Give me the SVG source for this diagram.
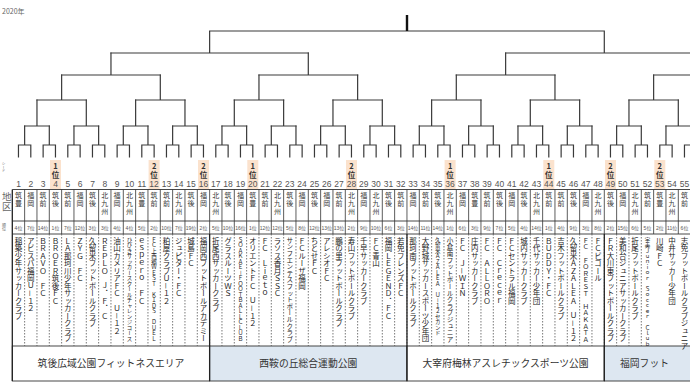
<svg xmlns="http://www.w3.org/2000/svg" width="690" height="388" viewBox="0 0 690 388">
<style>
.br{fill:none;stroke:#3a3a3a;stroke-width:1.2;vector-effect:non-scaling-stroke;stroke-linecap:square}
.tick{fill:none;stroke:#111;stroke-width:2.4}
.gl{fill:none;stroke:#333;stroke-width:0.8;vector-effect:non-scaling-stroke}
.dl{fill:none;stroke:#555;stroke-width:0.8;stroke-dasharray:1.5 1.5;vector-effect:non-scaling-stroke}
.hl{fill:none;stroke:#333;stroke-width:0.9}
.sep{fill:none;stroke:#222;stroke-width:1.3}
.seed{fill:#fbe2cd}
.num{font-family:"Liberation Sans",sans-serif;font-size:8.5px;fill:#555;text-anchor:middle}
.sd{font-family:"Noto Sans CJK JP",sans-serif;font-size:7.5px;font-weight:bold;fill:#333;text-anchor:middle}
.v{writing-mode:vertical-rl;font-family:"Noto Sans CJK JP",sans-serif;fill:#222}
.rg{font-size:7px;letter-spacing:1px;fill:#3a3a3a}
.nm{font-size:7.5px}
.nmc{font-size:6.6px}
.nmt{font-size:5.5px}
.rk{font-family:"Liberation Sans","Noto Sans CJK JP",sans-serif;font-size:5px;fill:#555;text-anchor:middle}
.vn{font-family:"Noto Sans CJK JP",sans-serif;font-size:9.8px;fill:#333;text-anchor:middle}
.blue{fill:#dde7f1;stroke:#333;stroke-width:0.9}
.white{fill:#fff;stroke:#333;stroke-width:0.9}
.sm{font-family:"Noto Sans CJK JP",sans-serif;fill:#666}
</style>

<text x="2" y="14" class="sm" font-size="7">2020年</text>

<g id="connectors">
<g transform="translate(12.3 0) scale(12.3333 1)">
<path class="br" d="M.5 157V145H1.5V157M1 145V126M2.5 157V145H3.5V157M3 145V126M4.5 157V145H5.5V157M5 145V126M6.5 157V145H7.5V157M7 145V126M8.5 157V145H9.5V157M9 145V126M10.5 157V145H11.5V157M11 145V126M12.5 157V145H13.5V157M13 145V126M14.5 157V145H15.5V157M15 145V126M16.5 157V145H17.5V157M17 145V126M18.5 157V145H19.5V157M19 145V126M20.5 157V145H21.5V157M21 145V126M22.5 157V145H23.5V157M23 145V126M24.5 157V145H25.5V157M25 145V126M26.5 157V145H27.5V157M27 145V126M28.5 157V145H29.5V157M29 145V126M30.5 157V145H31.5V157M31 145V126M32.5 157V145H33.5V157M33 145V126M34.5 157V145H35.5V157M35 145V126M36.5 157V145H37.5V157M37 145V126M38.5 157V145H39.5V157M39 145V126M40.5 157V145H41.5V157M41 145V126M42.5 157V145H43.5V157M43 145V126M44.5 157V145H45.5V157M45 145V126M46.5 157V145H47.5V157M47 145V126M48.5 157V145H49.5V157M49 145V126M50.5 157V145H51.5V157M51 145V126M52.5 157V145H53.5V157M53 145V126M54.5 157V145H55.5V157M55 145V126"/>
<path class="br" d="M1 126H3M2 126V100M5 126H7M6 126V100M9 126H11M10 126V100M13 126H15M14 126V100M17 126H19M18 126V100M21 126H23M22 126V100M25 126H27M26 126V100M29 126H31M30 126V100M33 126H35M34 126V100M37 126H39M38 126V100M41 126H43M42 126V100M45 126H47M46 126V100M49 126H51M50 126V100M53 126H55M54 126V100"/>
<path class="br" d="M2 100H6M4 100V75M10 100H14M12 100V75M18 100H22M20 100V75M26 100H30M28 100V75M34 100H38M36 100V75M42 100H46M44 100V75M50 100H54M52 100V75"/>
<path class="br" d="M4 75H12M8 75V53M20 75H28M24 75V53M36 75H44M40 75V53M52 75H60M56 75V53"/>
<path class="br" d="M8 53H24M16 53V31M40 53H56M48 53V31M16 31H48"/>
</g>
<path class="tick" d="M407 31V15"/>
</g>

<g id="seeds">
<rect class="seed" x="50" y="160" width="11" height="29.5"/>
<rect class="seed" x="148.6" y="160" width="11" height="29.5"/>
<rect class="seed" x="198" y="160" width="11" height="29.5"/>
<rect class="seed" x="247.3" y="160" width="11" height="29.5"/>
<rect class="seed" x="346" y="160" width="11" height="29.5"/>
<rect class="seed" x="444.6" y="160" width="11" height="29.5"/>
<rect class="seed" x="543.3" y="160" width="11" height="29.5"/>
<rect class="seed" x="605" y="160" width="11" height="29.5"/>
<rect class="seed" x="654.3" y="160" width="11" height="29.5"/>
<text class="sd" x="55.5" y="168.5">1</text><text class="sd" x="55.5" y="178">位</text>
<text class="sd" x="154.1" y="168.5">2</text><text class="sd" x="154.1" y="178">位</text>
<text class="sd" x="203.5" y="168.5">2</text><text class="sd" x="203.5" y="178">位</text>
<text class="sd" x="252.8" y="168.5">1</text><text class="sd" x="252.8" y="178">位</text>
<text class="sd" x="351.5" y="168.5">2</text><text class="sd" x="351.5" y="178">位</text>
<text class="sd" x="450.1" y="168.5">1</text><text class="sd" x="450.1" y="178">位</text>
<text class="sd" x="548.8" y="168.5">1</text><text class="sd" x="548.8" y="178">位</text>
<text class="sd" x="610.5" y="168.5">2</text><text class="sd" x="610.5" y="178">位</text>
<text class="sd" x="659.8" y="168.5">2</text><text class="sd" x="659.8" y="178">位</text>
</g>

<text class="v sm" x="3.5" y="162" font-size="3.6">シード</text>

<g id="numbers">
<text class="num" x="18.5" y="186.5">1</text><text class="num" x="30.8" y="186.5">2</text><text class="num" x="43.1" y="186.5">3</text><text class="num" x="55.5" y="186.5">4</text><text class="num" x="67.8" y="186.5">5</text><text class="num" x="80.1" y="186.5">6</text><text class="num" x="92.5" y="186.5">7</text><text class="num" x="104.8" y="186.5">8</text><text class="num" x="117.1" y="186.5">9</text><text class="num" x="129.5" y="186.5">10</text><text class="num" x="141.8" y="186.5">11</text><text class="num" x="154.1" y="186.5">12</text><text class="num" x="166.5" y="186.5">13</text><text class="num" x="178.8" y="186.5">14</text><text class="num" x="191.1" y="186.5">15</text><text class="num" x="203.5" y="186.5">16</text><text class="num" x="215.8" y="186.5">17</text><text class="num" x="228.1" y="186.5">18</text><text class="num" x="240.5" y="186.5">19</text><text class="num" x="252.8" y="186.5">20</text><text class="num" x="265.1" y="186.5">21</text><text class="num" x="277.5" y="186.5">22</text><text class="num" x="289.8" y="186.5">23</text><text class="num" x="302.1" y="186.5">24</text><text class="num" x="314.5" y="186.5">25</text><text class="num" x="326.8" y="186.5">26</text><text class="num" x="339.1" y="186.5">27</text><text class="num" x="351.5" y="186.5">28</text><text class="num" x="363.8" y="186.5">29</text><text class="num" x="376.1" y="186.5">30</text><text class="num" x="388.5" y="186.5">31</text><text class="num" x="400.8" y="186.5">32</text><text class="num" x="413.1" y="186.5">33</text><text class="num" x="425.5" y="186.5">34</text><text class="num" x="437.8" y="186.5">35</text><text class="num" x="450.1" y="186.5">36</text><text class="num" x="462.5" y="186.5">37</text><text class="num" x="474.8" y="186.5">38</text><text class="num" x="487.1" y="186.5">39</text><text class="num" x="499.5" y="186.5">40</text><text class="num" x="511.8" y="186.5">41</text><text class="num" x="524.1" y="186.5">42</text><text class="num" x="536.5" y="186.5">43</text><text class="num" x="548.8" y="186.5">44</text><text class="num" x="561.1" y="186.5">45</text><text class="num" x="573.5" y="186.5">46</text><text class="num" x="585.8" y="186.5">47</text><text class="num" x="598.1" y="186.5">48</text><text class="num" x="610.5" y="186.5">49</text><text class="num" x="622.8" y="186.5">50</text><text class="num" x="635.1" y="186.5">51</text><text class="num" x="647.5" y="186.5">52</text><text class="num" x="659.8" y="186.5">53</text><text class="num" x="672.1" y="186.5">54</text><text class="num" x="684.5" y="186.5">55</text>
</g>

<g id="venues">
<rect class="white" x="12.3" y="346" width="197.33" height="35"/>
<rect class="blue" x="209.63" y="346" width="197.34" height="35"/>
<rect class="white" x="406.97" y="346" width="197.33" height="35"/>
<rect class="blue" x="604.3" y="346" width="100" height="35"/>
<text class="vn" x="111" y="367">筑後広域公園フィットネスエリア</text>
<text class="vn" x="308.3" y="367">西鞍の丘総合運動公園</text>
<text class="vn" x="505.6" y="367">大宰府梅林アスレチックスポーツ公園</text>
<text class="vn" x="644.5" y="367" text-anchor="start">福岡フット</text>
</g>

<g id="grid">
<path class="hl" d="M12.3 189.5H690M12.3 221H690M12.3 234H690"/>
<g transform="translate(12.3 0) scale(12.3333 1)">
<path class="gl" d="M1 189.5v44.5m1-44.5v44.5m1-44.5v44.5m1-44.5v44.5m1-44.5v44.5m1-44.5v44.5m1-44.5v44.5m1-44.5v44.5m1-44.5v44.5m1-44.5v44.5m1-44.5v44.5m1-44.5v44.5m1-44.5v44.5m1-44.5v44.5m1-44.5v44.5m1-44.5v44.5m1-44.5v44.5m1-44.5v44.5m1-44.5v44.5m1-44.5v44.5m1-44.5v44.5m1-44.5v44.5m1-44.5v44.5m1-44.5v44.5m1-44.5v44.5m1-44.5v44.5m1-44.5v44.5m1-44.5v44.5m1-44.5v44.5m1-44.5v44.5m1-44.5v44.5m1-44.5v44.5m1-44.5v44.5m1-44.5v44.5m1-44.5v44.5m1-44.5v44.5m1-44.5v44.5m1-44.5v44.5m1-44.5v44.5m1-44.5v44.5m1-44.5v44.5m1-44.5v44.5m1-44.5v44.5m1-44.5v44.5m1-44.5v44.5m1-44.5v44.5m1-44.5v44.5m1-44.5v44.5m1-44.5v44.5m1-44.5v44.5m1-44.5v44.5m1-44.5v44.5m1-44.5v44.5m1-44.5v44.5"/>
<path class="dl" d="M1 234v112m1-112v112m1-112v112m1-112v112m1-112v112m1-112v112m1-112v112m1-112v112m1-112v112m1-112v112m1-112v112m1-112v112m1-112v112m1-112v112m1-112v112m1-112v112m1-112v112m1-112v112m1-112v112m1-112v112m1-112v112m1-112v112m1-112v112m1-112v112m1-112v112m1-112v112m1-112v112m1-112v112m1-112v112m1-112v112m1-112v112m1-112v112m1-112v112m1-112v112m1-112v112m1-112v112m1-112v112m1-112v112m1-112v112m1-112v112m1-112v112m1-112v112m1-112v112m1-112v112m1-112v112m1-112v112m1-112v112m1-112v112m1-112v112m1-112v112m1-112v112"/>
</g>
<path class="sep" d="M12.3 189.5V381M209.63 234V381M406.97 234V381M604.3 234V381"/>
</g>

<text class="v sm" x="6.8" y="192" font-size="9.5" fill="#333">地区</text>
<text class="v sm" x="4" y="223" font-size="4">順位</text>

<g id="regions">
<text class="v rg" x="18.5" y="191.5">筑豊</text><text class="v rg" x="30.8" y="191.5">福岡</text><text class="v rg" x="43.1" y="191.5">筑前</text><text class="v rg" x="55.5" y="191.5">筑後</text><text class="v rg" x="67.8" y="191.5">筑前</text><text class="v rg" x="80.1" y="191.5">福岡</text><text class="v rg" x="92.5" y="191.5">筑後</text><text class="v rg" x="104.8" y="191.5">北九州</text><text class="v rg" x="117.1" y="191.5">福岡</text><text class="v rg" x="129.5" y="191.5">北九州</text><text class="v rg" x="141.8" y="191.5">筑豊</text><text class="v rg" x="154.1" y="191.5">筑前</text><text class="v rg" x="166.5" y="191.5">筑前</text><text class="v rg" x="178.8" y="191.5">北九州</text><text class="v rg" x="191.1" y="191.5">筑後</text><text class="v rg" x="203.5" y="191.5">福岡</text><text class="v rg" x="215.8" y="191.5">北九州</text><text class="v rg" x="228.1" y="191.5">筑後</text><text class="v rg" x="240.5" y="191.5">福岡</text><text class="v rg" x="252.8" y="191.5">筑豊</text><text class="v rg" x="265.1" y="191.5">筑前</text><text class="v rg" x="277.5" y="191.5">北九州</text><text class="v rg" x="289.8" y="191.5">筑後</text><text class="v rg" x="302.1" y="191.5">福岡</text><text class="v rg" x="314.5" y="191.5">筑後</text><text class="v rg" x="326.8" y="191.5">福岡</text><text class="v rg" x="339.1" y="191.5">筑前</text><text class="v rg" x="351.5" y="191.5">北九州</text><text class="v rg" x="363.8" y="191.5">福岡</text><text class="v rg" x="376.1" y="191.5">北九州</text><text class="v rg" x="388.5" y="191.5">筑後</text><text class="v rg" x="400.8" y="191.5">筑前</text><text class="v rg" x="413.1" y="191.5">福岡</text><text class="v rg" x="425.5" y="191.5">筑前</text><text class="v rg" x="437.8" y="191.5">筑後</text><text class="v rg" x="450.1" y="191.5">北九州</text><text class="v rg" x="462.5" y="191.5">福岡</text><text class="v rg" x="474.8" y="191.5">筑豊</text><text class="v rg" x="487.1" y="191.5">筑前</text><text class="v rg" x="499.5" y="191.5">筑後</text><text class="v rg" x="511.8" y="191.5">福岡</text><text class="v rg" x="524.1" y="191.5">筑後</text><text class="v rg" x="536.5" y="191.5">北九州</text><text class="v rg" x="548.8" y="191.5">筑前</text><text class="v rg" x="561.1" y="191.5">筑前</text><text class="v rg" x="573.5" y="191.5">筑後</text><text class="v rg" x="585.8" y="191.5">福岡</text><text class="v rg" x="598.1" y="191.5">北九州</text><text class="v rg" x="610.5" y="191.5">筑後</text><text class="v rg" x="622.8" y="191.5">福岡</text><text class="v rg" x="635.1" y="191.5">北九州</text><text class="v rg" x="647.5" y="191.5">筑前</text><text class="v rg" x="659.8" y="191.5">筑豊</text><text class="v rg" x="672.1" y="191.5">北九州</text><text class="v rg" x="684.5" y="191.5">筑前</text>
</g>

<g id="ranks">
<text class="rk" x="18.5" y="229.5">4位</text><text class="rk" x="30.8" y="229.5">7位</text><text class="rk" x="43.1" y="229.5">14位</text><text class="rk" x="55.5" y="229.5">1位</text><text class="rk" x="67.8" y="229.5">7位</text><text class="rk" x="80.1" y="229.5">12位</text><text class="rk" x="92.5" y="229.5">3位</text><text class="rk" x="104.8" y="229.5">3位</text><text class="rk" x="117.1" y="229.5">4位</text><text class="rk" x="129.5" y="229.5">4位</text><text class="rk" x="141.8" y="229.5">5位</text><text class="rk" x="154.1" y="229.5">2位</text><text class="rk" x="166.5" y="229.5">10位</text><text class="rk" x="178.8" y="229.5">7位</text><text class="rk" x="191.1" y="229.5">19位</text><text class="rk" x="203.5" y="229.5">2位</text><text class="rk" x="215.8" y="229.5">5位</text><text class="rk" x="228.1" y="229.5">10位</text><text class="rk" x="240.5" y="229.5">16位</text><text class="rk" x="252.8" y="229.5">1位</text><text class="rk" x="265.1" y="229.5">12位</text><text class="rk" x="277.5" y="229.5">12位</text><text class="rk" x="289.8" y="229.5">5位</text><text class="rk" x="302.1" y="229.5">8位</text><text class="rk" x="314.5" y="229.5">12位</text><text class="rk" x="326.8" y="229.5">13位</text><text class="rk" x="339.1" y="229.5">13位</text><text class="rk" x="351.5" y="229.5">2位</text><text class="rk" x="363.8" y="229.5">9位</text><text class="rk" x="376.1" y="229.5">10位</text><text class="rk" x="388.5" y="229.5">6位</text><text class="rk" x="400.8" y="229.5">3位</text><text class="rk" x="413.1" y="229.5">14位</text><text class="rk" x="425.5" y="229.5">11位</text><text class="rk" x="437.8" y="229.5">14位</text><text class="rk" x="450.1" y="229.5">1位</text><text class="rk" x="462.5" y="229.5">6位</text><text class="rk" x="474.8" y="229.5">3位</text><text class="rk" x="487.1" y="229.5">9位</text><text class="rk" x="499.5" y="229.5">7位</text><text class="rk" x="511.8" y="229.5">5位</text><text class="rk" x="524.1" y="229.5">4位</text><text class="rk" x="536.5" y="229.5">14位</text><text class="rk" x="548.8" y="229.5">1位</text><text class="rk" x="561.1" y="229.5">4位</text><text class="rk" x="573.5" y="229.5">9位</text><text class="rk" x="585.8" y="229.5">3位</text><text class="rk" x="598.1" y="229.5">8位</text><text class="rk" x="610.5" y="229.5">2位</text><text class="rk" x="622.8" y="229.5">15位</text><text class="rk" x="635.1" y="229.5">6位</text><text class="rk" x="647.5" y="229.5">5位</text><text class="rk" x="659.8" y="229.5">2位</text><text class="rk" x="672.1" y="229.5">11位</text><text class="rk" x="684.5" y="229.5">6位</text>
</g>

<g id="teams">
<text class="v nm" x="18.5" y="237">稲築少年サッカークラブ</text>
<text class="v nm" x="30.8" y="237">アビスパ福岡Ｕ－１２</text>
<text class="v nm" x="43.1" y="237">ＢＲＡＶＯ　ＦＣ</text>
<text class="v nm" x="55.5" y="237">ＢＲＯＥＲ筑後ＦＣ</text>
<text class="v nm" x="67.8" y="237">ＬＡ那珂川少年サッカークラブ</text>
<text class="v nm" x="80.1" y="237">ＺＹＧ　ＦＣ</text>
<text class="v nm" x="92.5" y="237">久留米フットボールクラブ</text>
<text class="v nm" x="104.8" y="237">ＲＥＰＬＯ　Ｊ．Ｆ．Ｃ</text>
<text class="v nm" x="117.1" y="237">油山カメリアＦＣ　Ｕ－１２</text>
<text class="v nmt" x="129.5" y="237">ひびきサッカースクールチャレンジコース</text>
<text class="v nm" x="141.8" y="237">ｅｓｐｅｒｏ　ＦＣ</text>
<text class="v nmt" x="154.1" y="237">ＦＣ上西郷ＷＥＳＴ　ＫＩＤＳ　ＤＵＥＬ</text>
<text class="v nm" x="166.5" y="237">粕屋クラブＵ－１２</text>
<text class="v nm" x="178.8" y="237">ジュピター・ＦＣ</text>
<text class="v nm" x="191.1" y="237">城島ＦＣ</text>
<text class="v nm" x="203.5" y="237">福岡西フットボールアカデミー</text>
<text class="v nm" x="215.8" y="237">折尾西サッカークラブ</text>
<text class="v nm" x="228.1" y="237">グラスルーツＷＳ</text>
<text class="v nmt" x="240.5" y="237">ＳＯＡＫＡＥ－ＦＯＯＴＢＡＬＬＣＬＵＢ</text>
<text class="v nm" x="252.8" y="237">オリエントＦＣ　Ｕ－１２</text>
<text class="v nm" x="265.1" y="237">ＦＣ　Ｌｉｅｔｏ</text>
<text class="v nm" x="277.5" y="237">ラソス香月ＳＳＣ</text>
<text class="v nmc" x="289.8" y="237">サンフエンテスフットボールクラブ</text>
<text class="v nm" x="302.1" y="237">ＦＣルーザ福岡</text>
<text class="v nm" x="314.5" y="237">ちとせＦＣ</text>
<text class="v nm" x="326.8" y="237">アレシオＦＣ</text>
<text class="v nm" x="339.1" y="237">鵬の里フットボールクラブ</text>
<text class="v nm" x="351.5" y="237">寿山フットボールクラブ</text>
<text class="v nm" x="363.8" y="237">千早サッカークラブ</text>
<text class="v nm" x="376.1" y="237">ＦＣ青山</text>
<text class="v nm" x="388.5" y="237">福岡ＬＥＧＥＮＤ．ＦＣ</text>
<text class="v nm" x="400.8" y="237">若免フレンズＦＣ</text>
<text class="v nm" x="413.1" y="237">那珂南フットボールクラブ</text>
<text class="v nm" x="425.5" y="237">大野城サッカースポーツ少年団</text>
<text class="v nmt" x="437.8" y="237">久留米ＡＺＡＬＥＡ　Ｕ－１２セカンド</text>
<text class="v nmc" x="450.1" y="237">小倉南フットボールクラブジュニア</text>
<text class="v nm" x="462.5" y="237">ＦＣ　Ｊ－ＷＩＮ</text>
<text class="v nm" x="474.8" y="237">庄内サッカークラブ</text>
<text class="v nm" x="487.1" y="237">ＦＣ　ＡＬＬＯＲＯ</text>
<text class="v nm" x="499.5" y="237">ＦＣ　Ｃｒｅｃｅｒ</text>
<text class="v nm" x="511.8" y="237">ＦＣセントラル福岡</text>
<text class="v nm" x="524.1" y="237">城内サッカークラブ</text>
<text class="v nm" x="536.5" y="237">千代サッカー少年団</text>
<text class="v nm" x="548.8" y="237">ＢＵＤＤＹ・ＦＣ</text>
<text class="v nm" x="561.1" y="237">吉木フットボールクラブ</text>
<text class="v nm" x="573.5" y="237">久留米ＡＺＡＬＥＡ　Ｕ－１２</text>
<text class="v nmc" x="585.8" y="237">ＦＣ　ＦＯＲＥＳＴ　ＨＡＫＡＴＡ</text>
<text class="v nm" x="598.1" y="237">ＦＣビゴール</text>
<text class="v nm" x="610.5" y="237">ＦＲ大川東フットボールクラブ</text>
<text class="v nm" x="622.8" y="237">美和台ジュニアサッカークラブ</text>
<text class="v nm" x="635.1" y="237">折尾フットボールクラブ</text>
<text class="v nmt" x="647.5" y="237">宇美Ｊｕｎｉｏｒ　Ｓｏｃｃｅｒ　Ｃｌｕｂ</text>
<text class="v nm" x="659.8" y="237">川崎ＦＣ</text>
<text class="v nm" x="672.1" y="237">中井サッカー少年団</text>
<text class="v nm" x="684.5" y="237" font-size="7">志免フットボールクラブジュニア</text>
</g>
</svg>
